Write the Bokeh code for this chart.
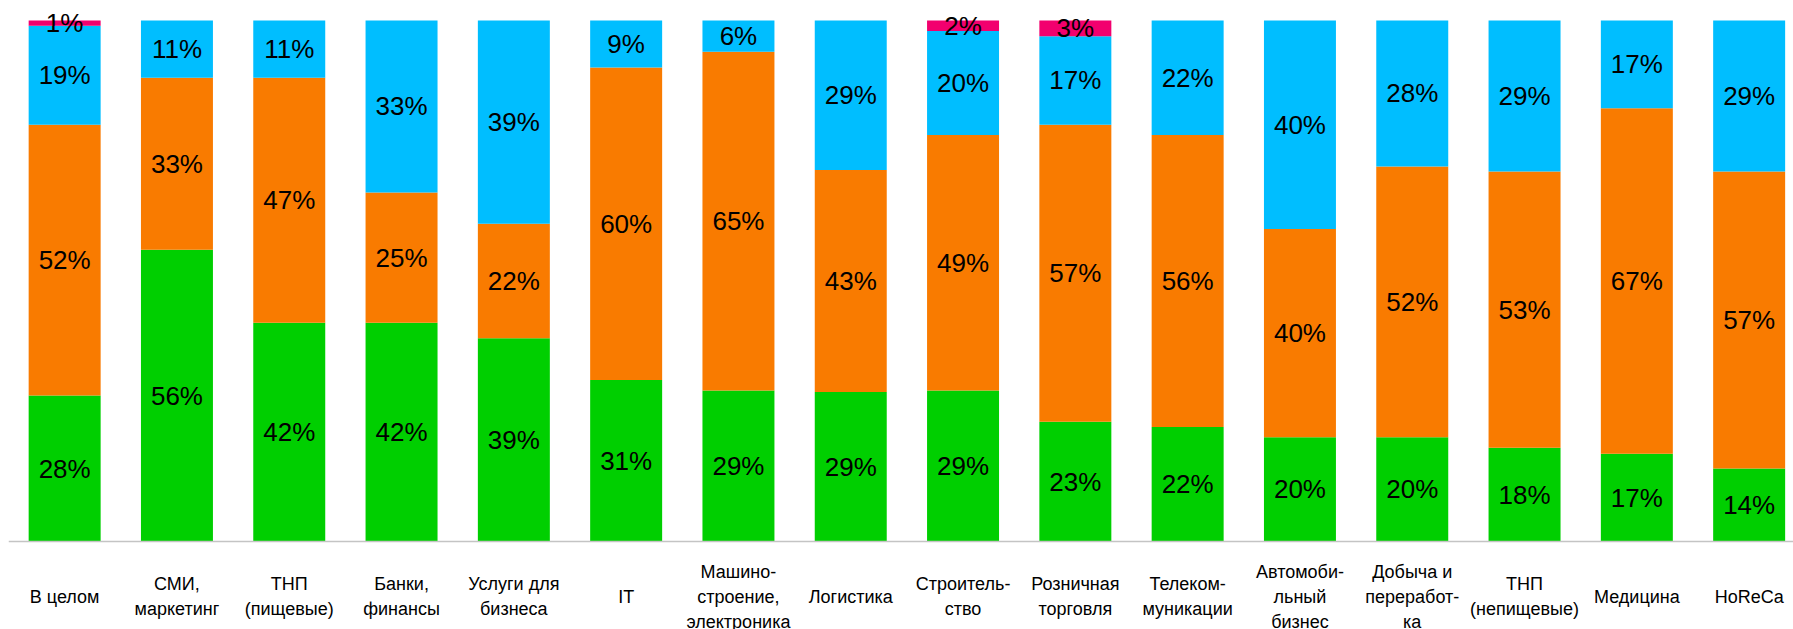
import numpy as np
from bokeh.plotting import figure
from bokeh.models import ColumnDataSource, Range1d, Span
from bokeh.core.properties import value
from bokeh.embed import file_html
from bokeh.resources import INLINE

categories = [
    "В целом", "СМИ,\nмаркетинг", "ТНП\n(пищевые)", "Банки,\nфинансы",
    "Услуги для\nбизнеса", "IT", "Машино-\nстроение,\nэлектроника", "Логистика",
    "Строитель-\nство", "Розничная\nторговля", "Телеком-\nмуникации",
    "Автомоби-\nльный\nбизнес", "Добыча и\nпереработ-\nка", "ТНП\n(непищевые)",
    "Медицина", "HoReCa",
]
green = [28, 56, 42, 42, 39, 31, 29, 29, 29, 23, 22, 20, 20, 18, 17, 14]
orange = [52, 33, 47, 25, 22, 60, 65, 43, 49, 57, 56, 40, 52, 53, 67, 57]
cyan = [19, 11, 11, 33, 39, 9, 6, 29, 20, 17, 22, 40, 28, 29, 17, 29]
pink = [1, 0, 0, 0, 0, 0, 0, 0, 2, 3, 0, 0, 0, 0, 0, 0]

series_names = ["green", "orange", "cyan", "pink"]
series_values = [green, orange, cyan, pink]
colors = ["#00CF00", "#F97B00", "#00BEFF", "#F2006E"]

FONT = "Liberation Sans"

n = len(categories)
x = np.arange(n) + 0.5
vals = np.array(series_values, dtype=float)
totals = vals.sum(axis=0)
fracs = vals / totals

data = {"x": x}
for name, f in zip(series_names, fracs):
    data[name] = f
source = ColumnDataSource(data)

W, H = 1793, 629
LEFT = 8
px_per_cat = 112.3
px_per_unit_y = 521.0
TOP_PX = 20      # y of 100% line
BASE_PX = 541    # y of baseline

p = figure(
    width=W, height=H, output_backend="svg", toolbar_location=None,
    x_range=Range1d(0, (W - LEFT) / px_per_cat),
    y_range=Range1d(-(H - BASE_PX) / px_per_unit_y, 1 + TOP_PX / px_per_unit_y),
    min_border_left=LEFT, min_border_right=0, min_border_top=0, min_border_bottom=0,
)
p.xaxis.visible = False
p.yaxis.visible = False
p.xgrid.visible = False
p.ygrid.visible = False
p.outline_line_color = None
p.background_fill_color = "white"

p.vbar_stack(series_names, x="x", width=0.641, source=source,
             color=colors, line_color=None)

# baseline
p.add_layout(Span(location=0, dimension="width", line_color="#C4C4C4", line_width=1.5))

# segment labels
lx, ly, lt = [], [], []
bottoms = np.zeros(n)
for v, f in zip(vals, fracs):
    for i in range(n):
        if v[i] > 0:
            lx.append(x[i])
            ly.append(bottoms[i] + f[i] / 2)
            lt.append(f"{int(v[i])}%")
    bottoms = bottoms + f
p.text(x=lx, y=ly, text=lt, text_align="center", text_baseline="middle",
       text_font=value(FONT), text_font_size="26px", text_color="black")

# category labels
p.text(x=list(x), y=[-(596 - BASE_PX) / px_per_unit_y] * n, text=categories,
       text_align="center", text_baseline="middle", text_line_height=1.25,
       text_font=value(FONT), text_font_size="18px", text_color="black")

open("out.html", "w").write(file_html(p, INLINE))
